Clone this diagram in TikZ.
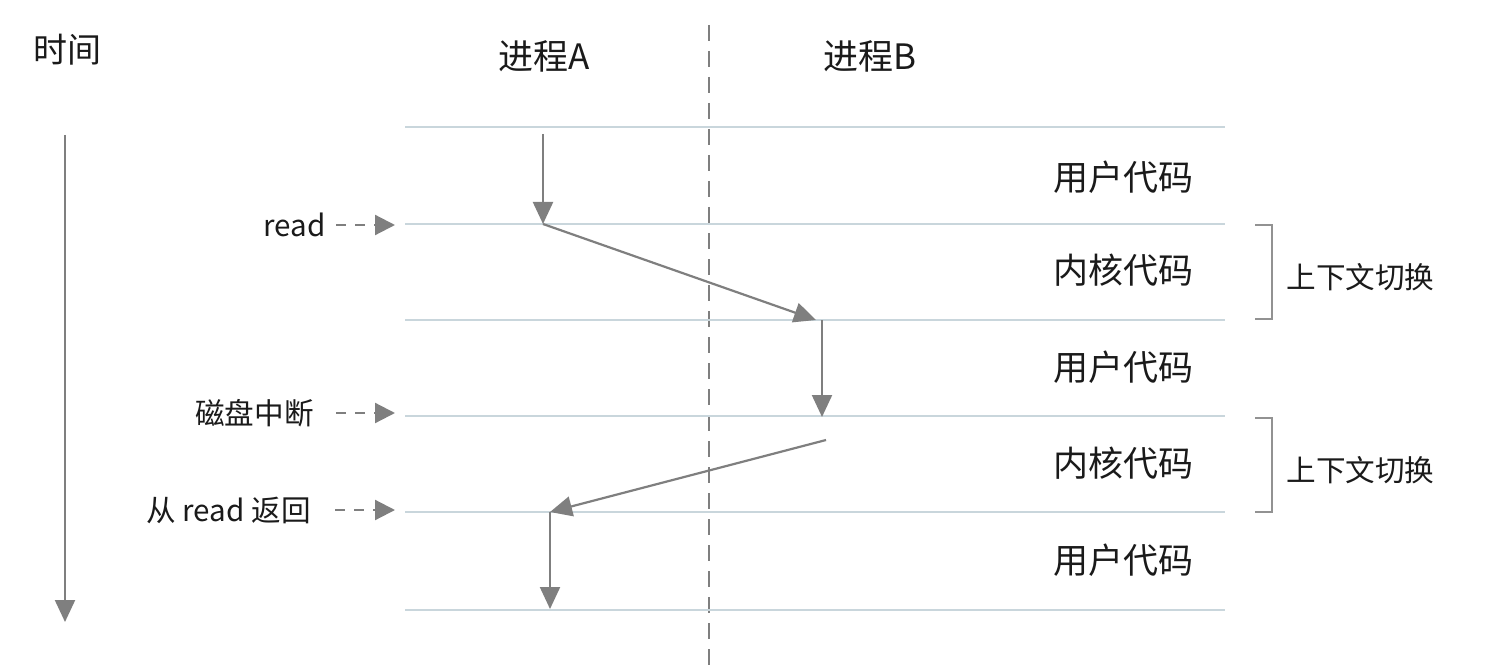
\documentclass[tikz,border=0pt]{standalone}
\usepackage{fontspec}
\setmainfont{Noto Sans CJK SC}
\usetikzlibrary{arrows.meta}
\definecolor{rule}{HTML}{C9D6DC}
\definecolor{flow}{HTML}{7F7F7F}
\definecolor{txt}{HTML}{1A1A1A}
\begin{document}
\begin{tikzpicture}[x=0.5pt,y=-0.5pt,
  lane/.style={draw=rule,line width=1pt},
  flowarrow/.style={draw=flow,line width=1.1pt,-{Triangle[width=10pt,length=11pt]}},
  hint/.style={draw=flow,line width=1.1pt,dash pattern=on 5pt off 4.5pt,-{Triangle[width=10pt,length=10pt]}},
  label/.style={text=txt,font=\fontsize{17.5}{20}\selectfont,inner sep=0pt},
  cslabel/.style={text=txt,font=\fontsize{14.8}{17}\selectfont,inner sep=0pt,anchor=west},
  side/.style={text=txt,font=\fontsize{14.8}{17}\selectfont,inner sep=0pt,anchor=east},
  bracket/.style={draw=flow!85,line width=1pt}]
\useasboundingbox (0,0) rectangle (1486,668);

% time axis
\node[label,font=\fontsize{17}{20}\selectfont] (time) at (67,50) {时间};
\coordinate (t0) at (65,135);
\coordinate (t1) at (65,622);
\draw[flowarrow] (t0) -- (t1);

% process headers and the separator
\node[label] (pa) at (544,56) {进程A};
\node[label] (pb) at (870,56) {进程B};
\coordinate (sep0) at (709,25);
\coordinate (sep1) at (709,668);
\draw[flow,line width=1pt,dash pattern=on 8pt off 5pt] (sep0) -- (sep1);

% time slices
\foreach \i/\y in {0/127,1/224,2/320,3/416,4/512,5/610}{
  \coordinate (l\i) at (405,\y);
  \coordinate (r\i) at (1225,\y);
  \draw[lane] (l\i) -- (r\i);
}

% slice labels
\node[label] (u1) at (1123,177) {用户代码};
\node[label] (k1) at (1123,270) {内核代码};
\node[label] (u2) at (1123,367) {用户代码};
\node[label] (k2) at (1123,463) {内核代码};
\node[label] (u3) at (1123,560) {用户代码};

% context switch brackets
\coordinate (b1a) at (1255,225);
\coordinate (b1b) at (1255,319);
\coordinate (b2a) at (1255,418);
\coordinate (b2b) at (1255,512);
\draw[bracket] (b1a) -- ++(17,0) |- (b1b);
\draw[bracket] (b2a) -- ++(17,0) |- (b2b);
\node[cslabel] (cs1) at (1286,277) {上下文切换};
\node[cslabel] (cs2) at (1286,470) {上下文切换};

% execution path
\coordinate (a0) at (543,134);
\coordinate (a1) at (543,224);
\coordinate (b0) at (816,320);
\coordinate (b1) at (822,320);
\coordinate (b2) at (822,417);
\coordinate (b3) at (826,440);
\coordinate (c0) at (550,512);
\coordinate (c1) at (550,609);
\draw[flowarrow] (a0) -- (a1);
\draw[flowarrow] (a1) -- (b0);
\draw[flowarrow] (b1) -- (b2);
\draw[flowarrow] (b3) -- (c0);
\draw[flowarrow] (c0) -- (c1);

% events on the left
\node[side] (ev1) at (326,225) {read};
\node[side] (ev2) at (314,413) {磁盘中断};
\node[side] (ev3) at (311,510) {从 read 返回};
\coordinate (h1) at (395,225);
\coordinate (h2) at (395,413);
\coordinate (h3) at (395,510);
\draw[hint] ([xshift=5pt]ev1.east) -- (h1);
\draw[hint] ([xshift=11pt]ev2.east) -- (h2);
\draw[hint] ([xshift=12pt]ev3.east) -- (h3);
\end{tikzpicture}
\end{document}
